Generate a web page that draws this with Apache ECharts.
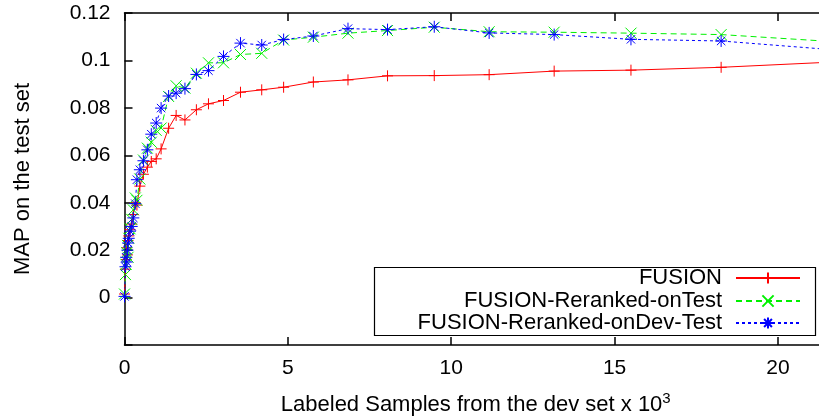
<!DOCTYPE html>
<html>
<head>
<meta charset="utf-8">
<script src="https://cdn.jsdelivr.net/npm/echarts@6/dist/echarts.min.js"></script>
<style>
html,body{margin:0;padding:0;background:#fff;}
#c{width:819px;height:418px;}
</style>
</head>
<body>
<div id="c"></div>
<script>
// Labeled samples (x 10^3)
const xValues = [0, 0.03, 0.05, 0.07, 0.09, 0.11, 0.13, 0.17, 0.22, 0.27, 0.33, 0.38, 0.47, 0.58, 0.7, 0.82, 0.97, 1.12, 1.35, 1.58, 1.85, 2.2, 2.57, 3.03, 3.55, 4.2, 4.87, 5.78, 6.84, 8.05, 9.48, 11.16, 13.15, 15.5, 18.26, 21.5];
const fusion = [0.0015, 0.012, 0.016, 0.021, 0.018, 0.024, 0.026, 0.0286, 0.031, 0.035, 0.040, 0.039, 0.047, 0.052, 0.055, 0.0574, 0.0585, 0.0627, 0.0714, 0.0768, 0.0749, 0.0792, 0.0817, 0.0831, 0.0866, 0.0876, 0.0887, 0.0909, 0.0918, 0.0935, 0.0936, 0.0940, 0.0955, 0.0959, 0.0971, 0.0992];
const rerankedOnTest = [0.0015, 0.0097, 0.014, 0.019, 0.022, 0.017, 0.025, 0.029, 0.033, 0.037, 0.042, 0.041, 0.050, 0.058, 0.063, 0.0655, 0.0705, 0.0715, 0.0848, 0.0893, 0.0883, 0.0946, 0.0990, 0.0990, 0.1025, 0.1030, 0.1086, 0.1098, 0.1115, 0.1126, 0.1140, 0.1121, 0.1119, 0.1115, 0.1109, 0.1081];
const rerankedOnDevTest = [0.0005, 0.013, 0.017, 0.015, 0.020, 0.023, 0.025, 0.028, 0.030, 0.0336, 0.0396, 0.0497, 0.0539, 0.0577, 0.0623, 0.0689, 0.0736, 0.0799, 0.0850, 0.0862, 0.0881, 0.0941, 0.0957, 0.1017, 0.1073, 0.1065, 0.1088, 0.1103, 0.1134, 0.1130, 0.1142, 0.1116, 0.1109, 0.1089, 0.1082, 0.1047];
const seriesNames = ['FUSION', 'FUSION-Reranked-onTest', 'FUSION-Reranked-onDev-Test'];

const FONT = 'Liberation Sans, Arial, Helvetica, sans-serif';
const FS_TICK = 21;
const FS_TEXT = 22;
const pairs = arr => xValues.map((x, i) => [x, arr[i]]);

const symPlus = 'path://M0,5L10,5M5,0L5,10';
const symCross = 'path://M0,0L10,10M10,0L0,10';
const symStar = 'path://M0,5L10,5M5,0L5,10M1.5,1.5L8.5,8.5M8.5,1.5L1.5,8.5';

function mk(name, data, color, type, sym, size) {
  return {
    name: name, type: 'line', data: pairs(data),
    symbol: sym, symbolSize: size, showAllSymbol: true,
    lineStyle: {color: color, width: 1, type: type},
    itemStyle: {color: color, borderColor: color, borderWidth: 1},
    emphasis: {disabled: true},
    z: 3
  };
}

const axisLine = {show: true, onZero: false, lineStyle: {color: '#000', width: 1.5}};
const tick = {show: true, inside: true, length: 8, lineStyle: {color: '#000', width: 1.5}};

function legendItem(i, top) {
  return {
    data: [seriesNames[i]], orient: 'horizontal', align: 'right',
    right: 18, top: top, padding: 0, itemWidth: 64, itemHeight: 14,
    selectedMode: false,
    textStyle: {fontFamily: FONT, fontSize: FS_TEXT, color: '#000', lineHeight: 22, padding: [0, 9, 0, 0]}
  };
}

const chart = echarts.init(document.getElementById('c'), null, {renderer: 'canvas'});
chart.setOption({
  animation: false,
  backgroundColor: '#fff',
  grid: {left: 124.5, right: -8, top: 13, bottom: 73, containLabel: false, outerBoundsMode: 'none'},
  xAxis: [{
    type: 'value', min: 0, max: 21.5, interval: 5, position: 'bottom',
    axisLine: axisLine, axisTick: tick, splitLine: {show: false},
    axisLabel: {fontFamily: FONT, fontSize: FS_TICK, color: '#000', margin: 13, showMaxLabel: false},
    name: '{a|Labeled Samples from the dev set x 10}{b|3}',
    nameLocation: 'middle', nameGap: 46,
    nameTextStyle: {rich: {a: {fontFamily: FONT, fontSize: FS_TEXT, color: '#000'}, b: {fontFamily: FONT, fontSize: 15, color: '#000', verticalAlign: 'top', padding: [0, 0, 12, 0]}}}
  }, {
    type: 'value', min: 0, max: 21.5, interval: 5, position: 'top',
    axisLine: axisLine, axisTick: tick, splitLine: {show: false}, axisLabel: {show: false}
  }],
  yAxis: [{
    type: 'value', min: -0.02, max: 0.12, interval: 0.02, position: 'left',
    axisLine: axisLine, axisTick: tick, splitLine: {show: false},
    axisLabel: {fontFamily: FONT, fontSize: FS_TICK, color: '#000', margin: 14,
      formatter: v => v < -1e-9 ? '' : String(Math.round(v * 100) / 100)},
    name: 'MAP on the test set', nameLocation: 'middle', nameGap: 91, nameRotate: 90,
    nameTextStyle: {fontFamily: FONT, fontSize: FS_TEXT, color: '#000'}
  }, {
    type: 'value', min: -0.02, max: 0.12, interval: 0.02, position: 'right',
    axisLine: axisLine, axisTick: tick, splitLine: {show: false}, axisLabel: {show: false}
  }],
  legend: [legendItem(0, 267), legendItem(1, 290), legendItem(2, 312)],
  graphic: [{type: 'rect', shape: {x: 374.5, y: 267.5, width: 441, height: 68},
    style: {fill: 'none', stroke: '#000', lineWidth: 1.2}, z: 10, silent: true}],
  series: [
    mk(seriesNames[0], fusion, '#ff0000', 'solid', symPlus, 11),
    mk(seriesNames[1], rerankedOnTest, '#00f000', [6, 4], symCross, 11),
    mk(seriesNames[2], rerankedOnDevTest, '#0000ff', [3, 3], symStar, 12)
  ]
});
</script>
</body>
</html>
